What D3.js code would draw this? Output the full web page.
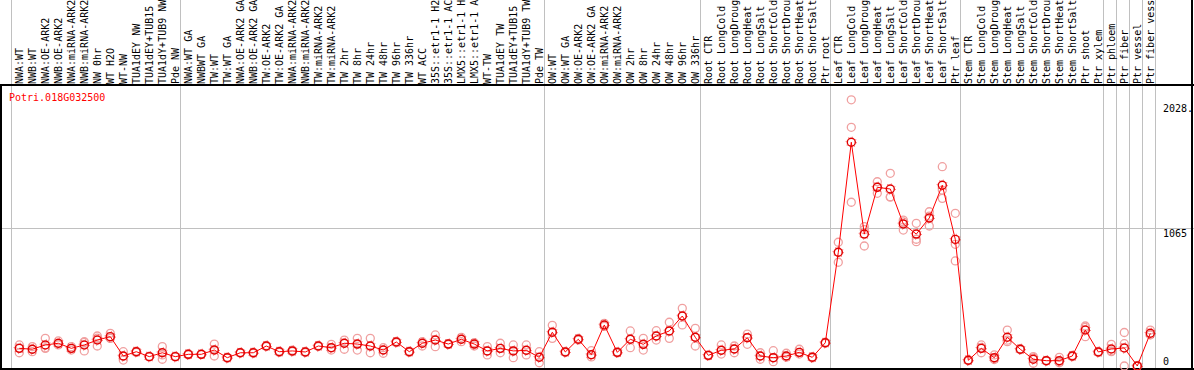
<!DOCTYPE html>
<html>
<head>
<meta charset="utf-8">
<script src="https://cdn.jsdelivr.net/npm/d3@7"></script>
<style>
  body { margin: 0; background: #fff; }
  svg { display: block; }
  text { font-family: "DejaVu Sans Mono", monospace; }
</style>
</head>
<body>
<div id="chart"></div>
<script>
// sample labels, left to right (shown cut to 14 characters, as in the source chart)
const samples = [
  "NWA:WT", "NWB:WT", "NWA:OE-ARK2", "NWB:OE-ARK2", "NWA:miRNA-ARK2", "NWB:miRNA-ARK2",
  "NW 0hr", "WT H2O", "WT-NW", "TUA1dEY NW", "TUA1dEY+TUB15 NW", "TUA1dY+TUB9 NW", "Pde NW",
  "NWA:WT GA", "NWBWT GA", "TW:WT", "TW:WT GA", "NWA:OE-ARK2 GA", "NWB:OE-ARK2 GA",
  "TW:OE-ARK2", "TW:OE-ARK2 GA", "NWA:miRNA-ARK2", "NWB:miRNA-ARK2", "TW:miRNA-ARK2",
  "TW:miRNA-ARK2", "TW 2hr", "TW 8hr", "TW 24hr", "TW 48hr", "TW 96hr", "TW 336hr", "WT ACC",
  "35S::etr1-1 H2O", "35S::etr1-1 ACC", "LMX5::etr1-1 H2O", "LMX5::etr1-1 ACC", "WT-TW",
  "TUA1dEY TW", "TUA1dEY+TUB15 TW", "TUA1dY+TUB9 TW", "Pde TW",
  "OW:WT", "OW:WT GA", "OW:OE-ARK2", "OW:OE-ARK2 GA", "OW:miRNA-ARK2", "OW:miRNA-ARK2",
  "OW 2hr", "OW 8hr", "OW 24hr", "OW 48hr", "OW 96hr", "OW 336hr",
  "Root CTR", "Root LongCold", "Root LongDrought", "Root LongHeat", "Root LongSalt",
  "Root ShortCold", "Root ShortDrought", "Root ShortHeat", "Root ShortSalt", "Ptr root",
  "Leaf CTR", "Leaf LongCold", "Leaf LongDrought", "Leaf LongHeat", "Leaf LongSalt",
  "Leaf ShortCold", "Leaf ShortDrought", "Leaf ShortHeat", "Leaf ShortSalt", "Ptr leaf",
  "Stem CTR", "Stem LongCold", "Stem LongDrought", "Stem LongHeat", "Stem LongSalt",
  "Stem ShortCold", "Stem ShortDrought", "Stem ShortHeat", "Stem ShortSalt", "Ptr shoot",
  "Ptr xylem", "Ptr phloem", "Ptr fiber", "Ptr vessel", "Ptr fiber vessel"
];

// group boundaries (index of first sample in each block)
const groupStarts = [0, 13, 41, 53, 63, 73, 84, 85, 86, 87, 88];

// mean expression per sample
const meanValues = [
  136, 129, 162, 175, 136, 162, 200, 226, 77, 110, 72, 102, 72,
  90, 90, 123, 64, 102, 102, 154, 110, 116, 108, 154, 141, 175, 169, 154, 123, 185,
  110, 175, 200, 169, 206, 169, 116, 136, 116, 121, 67,
  260, 108, 206, 87, 316, 105, 206, 167, 231, 270, 385, 221,
  82, 121, 131, 218, 77, 64, 77, 105, 67, 179,
  876, 1723, 1016, 1376, 1363, 1094, 1016, 1140, 1392, 975,
  44, 136, 64, 221, 129, 52, 41, 41, 77, 277, 108,
  131, 139, 0, 252
];

// replicate measurements
const rep1 = [
  162, 149, 213, 193, 123, 187, 231, 252, 110, 110, 72, 149, 72,
  90, 90, 169, 64, 102, 102, 154, 110, 116, 108, 154, 167, 200, 213, 213, 141, 185,
  110, 187, 239, 169, 221, 179, 149, 175, 162, 162, 110,
  313, 108, 206, 118, 329, 105, 270, 213, 272, 337, 444, 290,
  82, 162, 154, 246, 102, 118, 98, 129, 67, 179,
  953, 2050, 1073, 1419, 1484, 1124, 1099, 1188, 1535, 1176,
  44, 162, 85, 277, 129, 72, 41, 67, 77, 308, 108,
  167, 258, 0, 277
];
const rep2 = [
  102, 110, 136, 162, 149, 116, 154, 213, 46, 105, 70, 52, 70,
  85, 88, 77, 60, 100, 98, 150, 105, 110, 104, 150, 123, 129, 123, 102, 98, 180,
  105, 154, 149, 165, 187, 154, 85, 102, 64, 85, 25,
  213, 104, 200, 70, 305, 100, 141, 123, 200, 213, 316, 154,
  78, 92, 102, 167, 52, 33, 67, 92, 62, 175,
  799, 1838, 924, 1330, 1304, 1047, 976, 1078, 1355, 937,
  40, 102, 50, 187, 125, 21, 38, 25, 72, 226, 104,
  110, 172, 0, 240
];
const rep3 = [
  140, 129, 140, 172, 136, 182, 215, 215, 75, 115, 75, 85, 75,
  95, 92, 123, 68, 105, 106, 158, 115, 122, 112, 158, 141, 175, 169, 154, 123, 190,
  115, 175, 200, 173, 206, 169, 116, 136, 116, 121, 67,
  260, 112, 212, 87, 316, 110, 206, 167, 231, 270, 385, 221,
  86, 121, 131, 218, 77, 64, 77, 105, 72, 183,
  876, 1261, 1050, 1380, 1300, 1110, 957, 1154, 1291, 809,
  48, 144, 57, 199, 133, 63, 44, 31, 82, 297, 112,
  116, 0, 0, 240
];

const yTicks = [
  { value: 2028, label: "2028." },
  { value: 1065, label: "1065" },
  { value: 0, label: "0" }
];
const geneId = "Potri.018G032500";

const W = 1194, H = 370;
const frame = { top: 85, bottom: 369, left: 1, right: 1192 };

const svg = d3.select("#chart").append("svg")
  .attr("width", W)
  .attr("height", H);

svg.append("rect").attr("width", W).attr("height", H).attr("fill", "#fff");

// one 13px column per sample
const x = d3.scaleBand()
  .domain(d3.range(samples.length))
  .range([11, 11 + 13 * samples.length])
  .paddingInner(0).paddingOuter(0);
const px = i => x(i) + 8.3;

const y = d3.scaleLinear()
  .domain([0, 2130])
  .range([366, 89.4]);

// vertical group separators (run through the label area)
svg.append("g")
  .selectAll("line")
  .data(groupStarts)
  .join("line")
  .attr("x1", d => d < samples.length ? x(d) : x.range()[1])
  .attr("x2", d => d < samples.length ? x(d) : x.range()[1])
  .attr("y1", 0)
  .attr("y2", frame.bottom)
  .attr("stroke", "#c0c0c0")
  .attr("stroke-width", 1)
  .attr("shape-rendering", "crispEdges");

// mid gridline
svg.append("line")
  .attr("x1", frame.left)
  .attr("x2", W)
  .attr("y1", Math.round(y(1065)) + 0.5)
  .attr("y2", Math.round(y(1065)) + 0.5)
  .attr("stroke", "#c0c0c0")
  .attr("stroke-width", 1);

// frame
const frameG = svg.append("g")
  .attr("stroke", "#000")
  .attr("stroke-width", 1.5)
  .attr("shape-rendering", "crispEdges");
frameG.append("line").attr("x1", 0).attr("x2", W).attr("y1", frame.top).attr("y2", frame.top);
frameG.append("line").attr("x1", 0).attr("x2", W).attr("y1", frame.bottom).attr("y2", frame.bottom);
frameG.append("line").attr("x1", frame.left).attr("x2", frame.left).attr("y1", frame.top).attr("y2", frame.bottom);
frameG.append("line").attr("x1", frame.right).attr("x2", frame.right).attr("y1", 0).attr("y2", frame.bottom);

// rotated sample labels
svg.append("g")
  .selectAll("text")
  .data(samples)
  .join("text")
  .attr("transform", (d, i) => `translate(${px(i)},84) rotate(-90)`)
  .attr("dy", "0.35em")
  .attr("font-size", 10)
  .attr("fill", "#000")
  .text(d => d.slice(0, 14));

// y axis labels
svg.append("g")
  .selectAll("text")
  .data(yTicks)
  .join("text")
  .attr("x", 1163)
  .attr("y", d => d.value === 0 ? y(0) - 1 : y(d.value) + 9)
  .attr("font-size", 10)
  .attr("fill", "#000")
  .text(d => d.label);

// gene id
svg.append("text")
  .attr("x", 9)
  .attr("y", 101)
  .attr("font-size", 10)
  .attr("fill", "#f00")
  .text(geneId);

// replicates
const repPoints = [];
[rep1, rep2, rep3].forEach(rep => rep.forEach((v, i) => repPoints.push({ i, v })));

svg.append("g")
  .selectAll("circle")
  .data(repPoints)
  .join("circle")
  .attr("cx", d => px(d.i))
  .attr("cy", d => y(d.v))
  .attr("r", 4)
  .attr("fill", "none")
  .attr("stroke", "#f0a0a0")
  .attr("stroke-width", 1.3);

// mean line
const line = d3.line()
  .x((d, i) => px(i))
  .y(d => y(d));

svg.append("path")
  .datum(meanValues)
  .attr("fill", "none")
  .attr("stroke", "#f00")
  .attr("stroke-width", 1)
  .attr("d", line);

// mean markers
const meanG = svg.append("g");
meanG.selectAll("circle.ring")
  .data(meanValues)
  .join("circle")
  .attr("class", "ring")
  .attr("cx", (d, i) => px(i))
  .attr("cy", d => y(d))
  .attr("r", 5.2)
  .attr("fill", "none")
  .attr("stroke", "#f00")
  .attr("stroke-width", 1)
  .attr("stroke-dasharray", "1 3.08")
  .attr("opacity", 0.6);
meanG.selectAll("circle.dot")
  .data(meanValues)
  .join("circle")
  .attr("class", "dot")
  .attr("cx", (d, i) => px(i))
  .attr("cy", d => y(d))
  .attr("r", 4)
  .attr("fill", "none")
  .attr("stroke", "#e00000")
  .attr("stroke-width", 1.4);
</script>
</body>
</html>
